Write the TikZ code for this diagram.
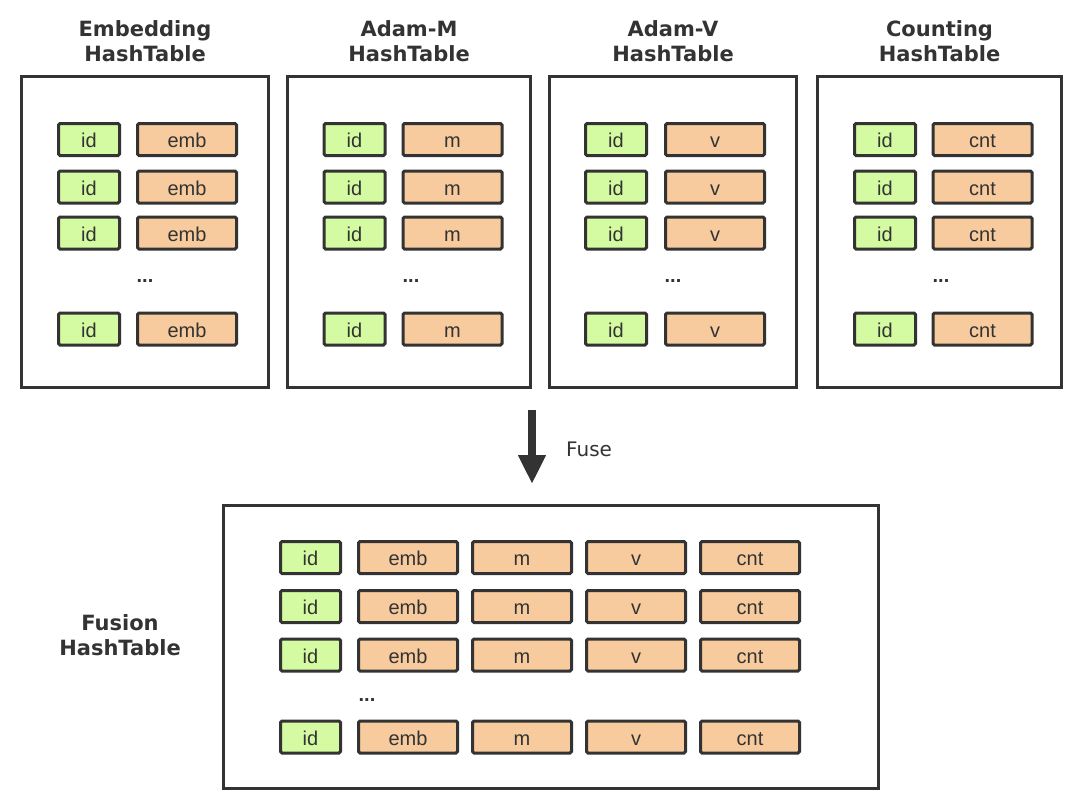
\documentclass[tikz,border=0pt]{standalone}
\usepackage{fontspec}
\setmainfont{Liberation Sans}
\newfontfamily\dejavu{DejaVu Sans}
\usetikzlibrary{arrows.meta}
\definecolor{ink}{HTML}{333333}
\definecolor{idgreen}{HTML}{D5FBA2}
\definecolor{valorange}{HTML}{F7CB9D}
\tikzset{
  panel/.style={draw=ink, line width=3pt, fill=white, inner sep=0pt},
  cell/.style={draw=ink, line width=3pt, rounded corners=1.5pt, inner sep=0pt,
    minimum height=32pt, text height=16pt, text depth=0pt, text=ink, font=\fontsize{20}{24}\selectfont},
  idcell/.style={cell, fill=idgreen, minimum width=61pt},
  valcell/.style={cell, fill=valorange, minimum width=99pt},
  title/.style={align=center, text=ink, font=\dejavu\bfseries\fontsize{21}{25}\selectfont, inner sep=0pt},
  dots/.style={text=ink, font=\fontsize{20}{24}\selectfont\bfseries, inner sep=0pt},
}
\begin{document}
\begin{tikzpicture}[x=1pt, y=-1pt]
\useasboundingbox (0,0) rectangle (1080,800);
% top panels
\node[panel, minimum width=247pt, minimum height=311pt] (p1) at (145,232) {};
\node[panel, minimum width=243pt, minimum height=311pt] (p2) at (409,232) {};
\node[panel, minimum width=247pt, minimum height=311pt] (p3) at (673,232) {};
\node[panel, minimum width=244pt, minimum height=311pt] (p4) at (939.5,232) {};
\node[title] (t1) at (145,41) {Embedding\\HashTable};
\node[title] (t2) at (409,41) {Adam-M\\HashTable};
\node[title] (t3) at (673,41) {Adam-V\\HashTable};
\node[title] (t4) at (939.5,41) {Counting\\HashTable};
\foreach \p/\ix/\vx/\dx/\lab in {1/89/187/145/emb, 2/354.5/452.5/411/m, 3/616/715/673/v, 4/885/982.5/941/cnt}{
  \foreach \r/\y in {1/139.5, 2/187, 3/233, 4/329}{
    \node[idcell] (p\p r\r id) at (\ix,\y) {id};
    \node[valcell] (p\p r\r val) at (\vx,\y) {\lab};
  }
  \node[dots] (p\p dots) at (\dx,281) {...};
}
% arrow
\coordinate (atop) at (532,410);
\coordinate (atip) at (532,484);
\draw[ink, line width=8pt, -{Triangle[width=26pt,length=29pt]}] (atop) -- (atip);
\node[anchor=west, text=ink, font=\dejavu\fontsize{20}{24}\selectfont, inner sep=0pt] (fuse) at (566,449) {Fuse};
% bottom panel
\node[panel, minimum width=655pt, minimum height=283pt] (fp) at (551,647) {};
\node[title] (ft) at (120,635) {Fusion\\HashTable};
\foreach \r/\y in {1/557.5, 2/606.5, 3/655, 4/737}{
  \node[idcell, minimum width=60pt] (fr\r id) at (310.5,\y) {id};
  \node[valcell] (fr\r emb) at (408,\y) {emb};
  \node[valcell] (fr\r m) at (522,\y) {m};
  \node[valcell] (fr\r v) at (636,\y) {v};
  \node[valcell] (fr\r cnt) at (750,\y) {cnt};
}
\node[dots] (fdots) at (367,700) {...};
\end{tikzpicture}
\end{document}
